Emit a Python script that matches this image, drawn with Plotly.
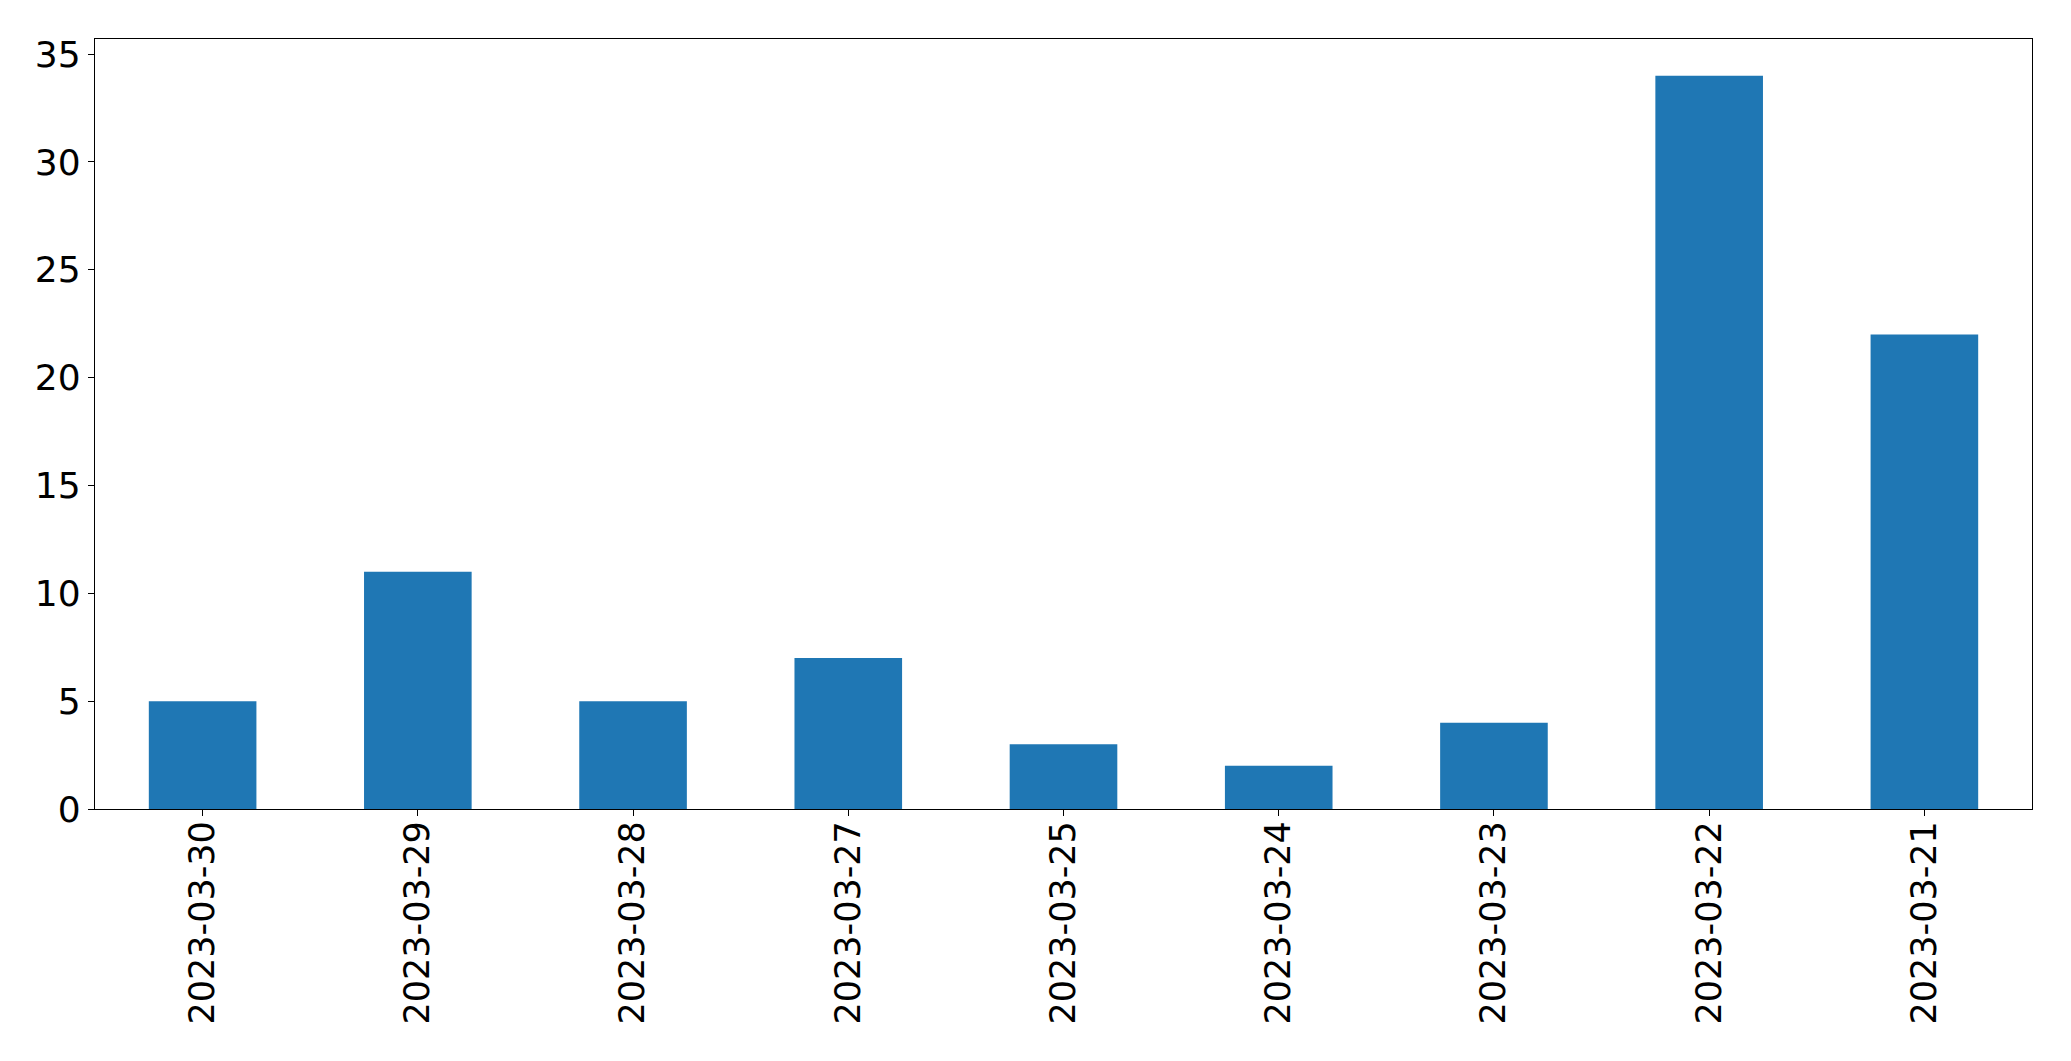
import plotly.graph_objects as go

dates = ["2023-03-30", "2023-03-29", "2023-03-28", "2023-03-27", "2023-03-25",
         "2023-03-24", "2023-03-23", "2023-03-22", "2023-03-21"]
counts = [5, 11, 5, 7, 3, 2, 4, 34, 22]
y_ticks = [0, 5, 10, 15, 20, 25, 30, 35]

fig = go.Figure(go.Bar(x=dates, y=counts, marker=dict(color="#1f77b4", line=dict(width=0))))

fig.update_layout(
    width=2071, height=1061,
    margin=dict(l=87, r=47, t=31, b=260, autoexpand=False),
    plot_bgcolor="white", paper_bgcolor="white",
    bargap=0.5,
    showlegend=False,
    font=dict(family="DejaVu Sans", size=35, color="black"),
)
fig.update_xaxes(
    type="category", range=[-0.5, 8.5], tickangle=-90, automargin=False,
    showline=True, linecolor="black", linewidth=1.3, mirror=True,
    ticks="outside", ticklen=6, tickwidth=1.3, tickcolor="black",
    ticklabelstandoff=-9,
    showgrid=False, zeroline=False, tickfont=dict(size=35),
)
fig.update_yaxes(
    range=[0, 35.7], tickvals=y_ticks, automargin=False,
    showline=True, linecolor="black", linewidth=1.3, mirror=True,
    ticks="outside", ticklen=6, tickwidth=1.3, tickcolor="black",
    showgrid=False, zeroline=False, tickfont=dict(size=36),
)
fig.write_html("out.html")
